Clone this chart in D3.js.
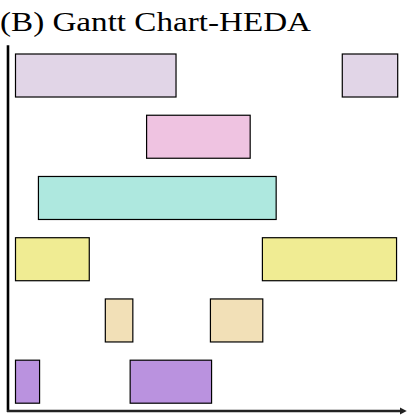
<!DOCTYPE html>
<html><head><meta charset="utf-8">
<script src="https://cdn.jsdelivr.net/npm/d3@7"></script>
<style>html,body{margin:0;padding:0;background:#fff;}</style>
</head><body>
<script>
const title = "(B) Gantt Chart-HEDA";
const rows = ["T1","T2","T3","T4","T5","T6"];
const rowColors = ["#E1D5E7","#EFC3E1","#AEE8DF","#F0EC93","#F2E0B7","#BA92DF"];
const taskRow   = ["T1","T1","T2","T3","T4","T4","T5","T5","T6","T6"];
const taskStart = [0, 85.5, 34.3, 6.0, 0, 64.6, 23.5, 51.0, 0, 30.0];
const taskEnd   = [42, 100, 61.4, 68.2, 19.3, 99.7, 30.7, 64.7, 6.3, 51.3];

const W = 415, H = 420;
const svg = d3.select("body").append("svg").attr("width", W).attr("height", H);

const x = d3.scaleLinear().domain([0, 100]).range([15.5, 397.7]);
const y = d3.scaleBand().domain(rows).range([54.0, 403.2]).paddingInner(0.2977).paddingOuter(0);
const color = d3.scaleOrdinal().domain(rows).range(rowColors);

svg.append("text").attr("x", 0).attr("y", 31)
  .attr("font-family", "Liberation Serif, Times New Roman, serif")
  .attr("font-size", 27).attr("fill", "#000")
  .attr("textLength", 311).attr("lengthAdjust", "spacingAndGlyphs").text(title);

const tasks = taskRow.map((r, i) => ({row: r, s: taskStart[i], e: taskEnd[i]}));
svg.selectAll("rect.task").data(tasks).join("rect").attr("class", "task")
  .attr("x", d => x(d.s)).attr("width", d => x(d.e) - x(d.s))
  .attr("y", d => y(d.row)).attr("height", y.bandwidth())
  .attr("fill", d => color(d.row)).attr("stroke", "#000").attr("stroke-width", 1.2);

// axes
svg.append("defs").append("marker").attr("id", "arr").attr("viewBox", "0 0 10 10")
  .attr("refX", 2).attr("refY", 5).attr("markerWidth", 3).attr("markerHeight", 3)
  .attr("orient", "auto").append("path").attr("d", "M0,0L10,5L0,10z").attr("fill", "#222");
svg.append("line").attr("x1", 8).attr("x2", 8).attr("y1", 45.3).attr("y2", 412)
  .attr("stroke", "#000").attr("stroke-width", 2.6);
svg.append("line").attr("x1", 7).attr("x2", 401).attr("y1", 411).attr("y2", 411)
  .attr("stroke", "#222").attr("stroke-width", 2.4).attr("marker-end", "url(#arr)");
</script>
</body></html>
